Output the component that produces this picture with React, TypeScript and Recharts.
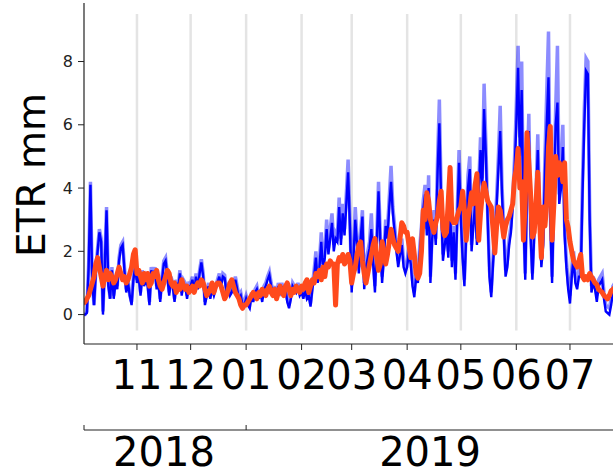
import React from 'react';
import { LineChart, Line, XAxis, YAxis, ReferenceLine } from 'recharts';

const FONT = '"DejaVu Sans", sans-serif';

// day offsets counted from 2018-10-01; first sample is day 1
const firstDay = 1;

const etrDaily = [
  // Oct 2018
  0.0, 0.0, 0.05, 1.5, 4.1, 1.0, 0.3, 1.3, 2.0, 2.6,
  2.3, 0.0, 1.5, 3.3, 0.9, 0.5, 1.4, 0.5, 1.0, 0.8,
  1.7, 2.1, 2.2, 1.4, 0.7, 1.0, 0.6, 0.3, 1.1, 1.5,
  // Nov
  1.0, 1.2, 0.6, 1.3, 0.9, 1.1, 0.9, 0.3, 1.4, 1.2,
  1.4, 0.8, 1.0, 0.4, 1.1, 1.6, 1.7, 1.2, 0.6, 1.1,
  0.9, 0.4, 1.0, 0.8, 1.3, 0.6, 1.0, 0.9, 0.5, 0.9,
  // Dec
  0.9, 1.1, 0.7, 1.2, 0.8, 1.3, 1.65, 1.2, 0.3, 0.6,
  0.9, 0.5, 0.8, 0.6, 0.8, 1.0, 1.2, 0.9, 1.2, 1.15,
  0.7, 0.9, 0.6, 0.7, 0.9, 1.1, 0.8, 0.5, 0.6, 0.3,
  0.3,
  // Jan 2019
  0.5, 0.3, 0.2, 0.6, 0.4, 0.7, 0.8, 0.5, 0.7, 0.4,
  0.8, 0.9, 1.1, 1.25, 0.9, 0.6, 0.8, 0.5, 0.9, 0.7,
  0.9, 0.6, 0.8, 0.4, 0.2, 0.5, 0.9, 0.8, 0.7, 0.9,
  0.6,
  // Feb
  0.7, 0.5, 0.8, 0.5, 0.6, 0.25, 0.8, 1.2, 1.8, 1.0,
  1.5, 2.3, 1.4, 1.8, 2.7, 1.9, 2.4, 2.9, 2.0, 2.4,
  2.3, 3.4, 2.2, 3.2, 2.5, 3.5, 4.5, 2.8,
  // Mar
  0.7, 1.8, 3.0, 2.2, 1.3, 2.4, 3.1, 0.8, 1.5, 1.8,
  2.1, 2.7, 1.6, 0.7, 2.2, 3.9, 2.3, 1.0, 1.8, 2.8,
  2.4, 3.4, 4.2, 3.2, 2.6, 2.0, 1.5, 1.9, 2.2, 1.5,
  1.3,
  // Apr
  1.5, 2.0, 1.6, 0.9, 0.55, 1.2, 1.0, 1.9, 2.6, 3.3,
  3.8, 2.5, 4.0, 1.0, 2.4, 3.0, 2.2, 4.5, 6.05, 3.5,
  1.7, 2.2, 2.6, 1.8, 3.4, 1.5, 2.6, 1.1, 3.0, 4.8,
  // May
  3.0, 1.8, 0.9, 2.5, 4.0, 4.6, 2.0, 2.8, 3.5, 2.2,
  3.8, 5.2, 4.0, 6.5, 5.0, 3.0, 1.2, 0.55, 1.6, 2.5,
  3.4, 4.6, 5.8, 3.8, 2.5, 1.2, 1.5, 2.2, 2.6, 3.4,
  4.5,
  // Jun
  6.0, 7.8, 5.0, 7.1, 3.0, 1.1, 4.0, 5.8, 2.5, 1.1,
  2.5, 3.5, 5.2, 3.0, 1.5, 2.2, 4.5, 6.0, 7.5, 3.0,
  1.0, 3.5, 6.0, 6.7, 3.5, 4.0, 5.3, 2.5, 1.5, 0.8,
  // Jul
  0.35, 1.2, 1.8, 1.0, 0.8, 1.2, 1.2, 3.8, 6.0, 7.7,
  7.6, 3.0, 0.7, 1.0, 0.8, 0.4, 0.9, 1.0, 1.1, 0.5,
  0.1, 0.05, 0.0, 0.3, 0.7, 0.8,
];

const etrDailyUpper = [
  // Oct 2018
  0.0, 0.0, 0.1, 1.6, 4.2, 1.1, 0.3, 1.4, 2.1, 2.7,
  2.4, 0.1, 1.6, 3.4, 1.0, 0.5, 1.5, 0.6, 1.1, 0.9,
  1.8, 2.2, 2.3, 1.5, 0.8, 1.1, 0.6, 0.4, 1.2, 1.6,
  // Nov
  1.1, 1.3, 0.7, 1.4, 1.0, 1.2, 1.0, 0.4, 1.5, 1.3,
  1.5, 0.9, 1.1, 0.5, 1.2, 1.7, 1.8, 1.3, 0.7, 1.2,
  1.0, 0.5, 1.1, 0.9, 1.4, 0.7, 1.1, 1.0, 0.6, 1.0,
  // Dec
  1.0, 1.2, 0.8, 1.3, 0.9, 1.4, 1.75, 1.3, 0.4, 0.7,
  1.0, 0.6, 0.9, 0.7, 0.9, 1.1, 1.3, 1.0, 1.3, 1.25,
  0.8, 1.0, 0.7, 0.8, 1.0, 1.2, 0.9, 0.6, 0.7, 0.4,
  0.4,
  // Jan 2019
  0.6, 0.4, 0.3, 0.7, 0.5, 0.8, 0.9, 0.6, 0.8, 0.5,
  0.9, 1.0, 1.2, 1.35, 1.0, 0.7, 0.9, 0.6, 1.0, 0.8,
  1.0, 0.7, 0.9, 0.5, 0.3, 0.6, 1.0, 0.9, 0.8, 1.0,
  0.7,
  // Feb
  0.8, 0.6, 0.9, 0.6, 0.7, 0.35, 0.9, 1.4, 2.0, 1.2,
  1.7, 2.6, 1.6, 2.0, 3.0, 2.1, 2.7, 3.2, 2.2, 2.6,
  2.5, 3.7, 2.4, 3.5, 2.7, 3.8, 4.9, 3.0,
  // Mar
  0.9, 2.0, 3.4, 2.4, 1.5, 2.6, 3.3, 1.0, 1.7, 2.0,
  2.3, 3.2, 1.8, 0.9, 2.4, 4.2, 2.5, 1.2, 2.0, 3.0,
  2.7, 3.7, 4.7, 3.4, 2.8, 2.2, 1.7, 2.1, 2.4, 1.7,
  1.5,
  // Apr
  1.7, 2.2, 1.8, 1.1, 0.7, 1.4, 1.2, 2.1, 2.8, 3.6,
  4.1, 2.7, 4.4, 1.2, 2.6, 3.3, 2.4, 4.9, 6.8, 3.8,
  1.9, 2.4, 2.8, 2.0, 3.8, 1.7, 2.8, 1.3, 3.3, 5.2,
  // May
  3.3, 2.0, 1.1, 2.7, 4.4, 5.0, 2.2, 3.0, 4.2, 2.4,
  4.1, 5.6, 4.3, 7.3, 5.4, 3.2, 1.4, 0.7, 1.8, 2.7,
  3.7, 5.0, 6.6, 4.1, 2.7, 1.4, 1.7, 2.4, 2.8, 3.7,
  4.9,
  // Jun
  6.6, 8.5, 5.6, 8.0, 3.3, 1.3, 4.4, 6.35, 2.7, 1.3,
  2.7, 3.8, 5.7, 3.3, 1.7, 2.4, 5.0, 7.0, 8.95, 3.3,
  1.2, 4.0, 6.5, 8.5, 3.8, 4.4, 6.0, 2.8, 1.7, 1.0,
  // Jul
  0.6, 1.4, 2.0, 1.2, 1.0, 1.4, 1.4, 4.2, 6.5, 8.1,
  8.0, 3.3, 0.9, 1.2, 1.0, 0.6, 1.1, 1.2, 1.3, 0.7,
  0.3, 0.25, 0.2, 0.5, 0.9, 1.0,
];

const etrSmooth = [
  // Oct 2018
  0.35, 0.4, 0.5, 0.6, 0.8, 1.0, 1.2, 1.6, 1.8, 1.5,
  1.2, 0.9, 1.2, 1.4, 1.1, 1.3, 1.2, 1.0, 1.1, 1.3,
  1.5, 1.3, 1.1, 1.2, 1.0, 1.1, 1.3, 1.5, 1.9, 2.05,
  // Nov
  1.3, 1.4, 1.2, 1.0, 1.3, 1.1, 1.3, 0.9, 1.0, 1.3,
  1.2, 1.4, 1.1, 0.9, 0.8, 1.0, 1.2, 1.4, 1.3, 1.0,
  0.9, 1.0, 0.7, 0.9, 0.8, 1.1, 0.9, 0.8, 0.9, 0.7,
  // Dec
  0.8, 0.9, 0.7, 0.9, 1.0, 0.9, 1.1, 1.0, 0.8, 0.6,
  0.7, 0.8, 1.0, 0.7, 0.9, 1.0, 1.0, 0.9, 0.7, 0.5,
  0.6, 0.8, 1.0, 1.1, 0.9, 0.7, 0.6, 0.5, 0.3, 0.2,
  0.3,
  // Jan 2019
  0.3, 0.4, 0.5, 0.6, 0.7, 0.6, 0.5, 0.7, 0.6, 0.8,
  0.7, 0.6, 0.8, 0.9, 0.7, 0.6, 0.8, 0.5, 0.7, 0.9,
  0.7, 0.6, 0.9, 1.0, 0.8, 0.6, 0.8, 0.7, 0.9, 0.8,
  0.7,
  // Feb
  0.9, 0.8, 1.0, 1.1, 0.7, 0.9, 1.1, 1.0, 1.3, 1.2,
  1.4, 1.1, 1.5, 1.2, 1.6, 1.5, 1.7, 1.6, 1.6, 0.3,
  1.6, 1.8, 1.7, 1.9, 1.6, 1.7, 1.9, 1.7,
  // Mar
  1.0, 1.3, 1.5, 1.9, 2.2, 2.3, 1.7, 1.3, 1.0, 1.3,
  1.6, 1.9, 2.2, 2.4, 1.8, 1.4, 1.6, 2.3, 2.0, 1.6,
  1.9, 2.3, 2.7, 2.4, 2.2, 2.1, 2.0, 2.4, 2.9, 2.8,
  2.6,
  // Apr
  2.6, 2.2, 1.8, 2.4, 1.9, 1.3, 1.15, 1.3, 2.0, 3.3,
  3.0, 3.85, 3.6, 3.0, 2.8, 2.6, 2.9, 3.1, 3.6, 3.9,
  2.7, 2.5, 2.6, 3.6, 4.65, 3.0, 2.9, 2.9, 3.1, 3.3,
  // May
  3.4, 3.9, 3.3, 2.35, 3.0, 3.4, 3.85, 3.5, 4.1, 4.45,
  2.35, 3.2, 3.8, 4.15, 3.9, 3.6, 3.5, 3.4, 2.7, 1.95,
  2.8, 3.4, 3.3, 2.9, 2.45, 2.8, 3.0, 3.1, 3.3, 3.5,
  4.3,
  // Jun
  4.6, 5.25, 4.0, 4.2, 2.35, 3.6, 5.75, 4.8, 3.8, 2.45,
  2.6, 3.5, 4.5, 3.0, 1.8, 3.4, 2.8, 3.5, 5.3, 5.95,
  2.35, 3.5, 5.0, 4.4, 4.8, 4.65, 4.2, 4.8, 3.0, 2.75,
  // Jul
  2.3, 2.0, 1.7, 1.6, 1.5, 1.7, 1.9, 1.2, 1.1, 1.2,
  1.1, 1.3, 1.2, 1.1, 1.0, 0.95, 0.8, 0.75, 0.7, 0.6,
  0.55, 0.5, 0.6, 0.75, 0.8, 0.85,
];

const xDomain: [number, number] = [1.4, 297.6];
const yDomain: [number, number] = [-0.93, 9.85];
const yTicks = [0, 2, 4, 6, 8];
const monthTickDays = [31, 61, 92, 123, 151, 182, 212, 243, 273];
const monthTickLabels = ['11', '12', '01', '02', '03', '04', '05', '06', '07'];
const yearBoundaryDays = [1.4, 92];
const yearLabelDays = [46.1, 194.8];
const yearLabels = ['2018', '2019'];
const gridSpan: [number, number] = [-0.5, 9.5];

const data = etrDaily.map((v, i) => ({
  day: firstDay + i,
  daily: v,
  upper: etrDailyUpper[i],
  smooth: etrSmooth[i],
}));

const MonthTick = (props: any) => {
  const { x, y, payload } = props;
  const idx = monthTickDays.indexOf(payload.value);
  return (
    <text x={x} y={y} dy={39} textAnchor="middle" fontSize={40} fontFamily={FONT} fill="#000">
      {idx >= 0 ? monthTickLabels[idx] : ''}
    </text>
  );
};

const YearTick = (props: any) => {
  const { x, y, payload } = props;
  const li = yearLabelDays.indexOf(payload.value);
  if (li >= 0) {
    return (
      <text x={x} y={y} dy={36} textAnchor="middle" fontSize={40} fontFamily={FONT} fill="#000">
        {yearLabels[li]}
      </text>
    );
  }
  return <line x1={x} y1={y} x2={x} y2={y - 5} stroke="#222" strokeWidth={1} />;
};

export default function App() {
  return (
    <div style={{ position: 'absolute', left: 0, top: 0, width: 613, height: 469, overflow: 'hidden', background: '#fff' }}>
      <LineChart width={640} height={469} data={data} margin={{ top: 3, right: 26, bottom: 0, left: 0 }}>
        <XAxis
          xAxisId="main"
          dataKey="day"
          type="number"
          domain={xDomain}
          allowDataOverflow
          ticks={monthTickDays}
          interval={0}
          tick={(p: any) => <MonthTick {...p} />}
          tickSize={6}
          tickMargin={0}
          height={86}
          axisLine={{ stroke: '#222', strokeWidth: 1.2 }}
          tickLine={{ stroke: '#222' }}
        />
        <XAxis
          xAxisId="year"
          dataKey="day"
          type="number"
          domain={xDomain}
          allowDataOverflow
          ticks={[...yearBoundaryDays, ...yearLabelDays]}
          interval={0}
          tick={(p: any) => <YearTick {...p} />}
          tickSize={0}
          tickMargin={0}
          tickLine={false}
          height={39}
          axisLine={{ stroke: '#222', strokeWidth: 1.2 }}
        />
        <XAxis
          xAxisId="top"
          orientation="top"
          dataKey="day"
          type="number"
          domain={xDomain}
          allowDataOverflow
          height={0}
          tick={false}
          tickLine={false}
          axisLine={{ stroke: '#222', strokeWidth: 1.2 }}
        />
        <YAxis
          domain={yDomain}
          allowDataOverflow
          ticks={yTicks}
          interval={0}
          width={84}
          tickSize={6}
          tickMargin={5}
          tick={{ fontSize: 16, fill: '#222', fontFamily: FONT }}
          axisLine={{ stroke: '#222', strokeWidth: 1.2 }}
          tickLine={{ stroke: '#222' }}
        />
        {monthTickDays.map((d) => (
          <ReferenceLine
            key={d}
            xAxisId="main"
            segment={[{ x: d, y: gridSpan[0] }, { x: d, y: gridSpan[1] }]}
            stroke="#e4e4e4"
            strokeWidth={2.5}
          />
        ))}
        <Line
          xAxisId="main"
          dataKey="upper"
          type="linear"
          stroke="#0000ff"
          strokeOpacity={0.45}
          strokeWidth={3.5}
          dot={false}
          isAnimationActive={false}
        />
        <Line
          xAxisId="main"
          dataKey="daily"
          type="linear"
          stroke="#0000ff"
          strokeWidth={2.4}
          dot={false}
          isAnimationActive={false}
        />
        <Line
          xAxisId="main"
          dataKey="smooth"
          type="linear"
          stroke="#ff4a1c"
          strokeWidth={5}
          strokeLinejoin="round"
          dot={false}
          isAnimationActive={false}
        />
      </LineChart>
      <svg width={613} height={469} style={{ position: 'absolute', left: 0, top: 0, pointerEvents: 'none' }}>
        <text transform="translate(45,175) rotate(-90)" textAnchor="middle" fontSize={39} fontFamily={FONT} fill="#000">
          ETR mm
        </text>
      </svg>
    </div>
  );
}
